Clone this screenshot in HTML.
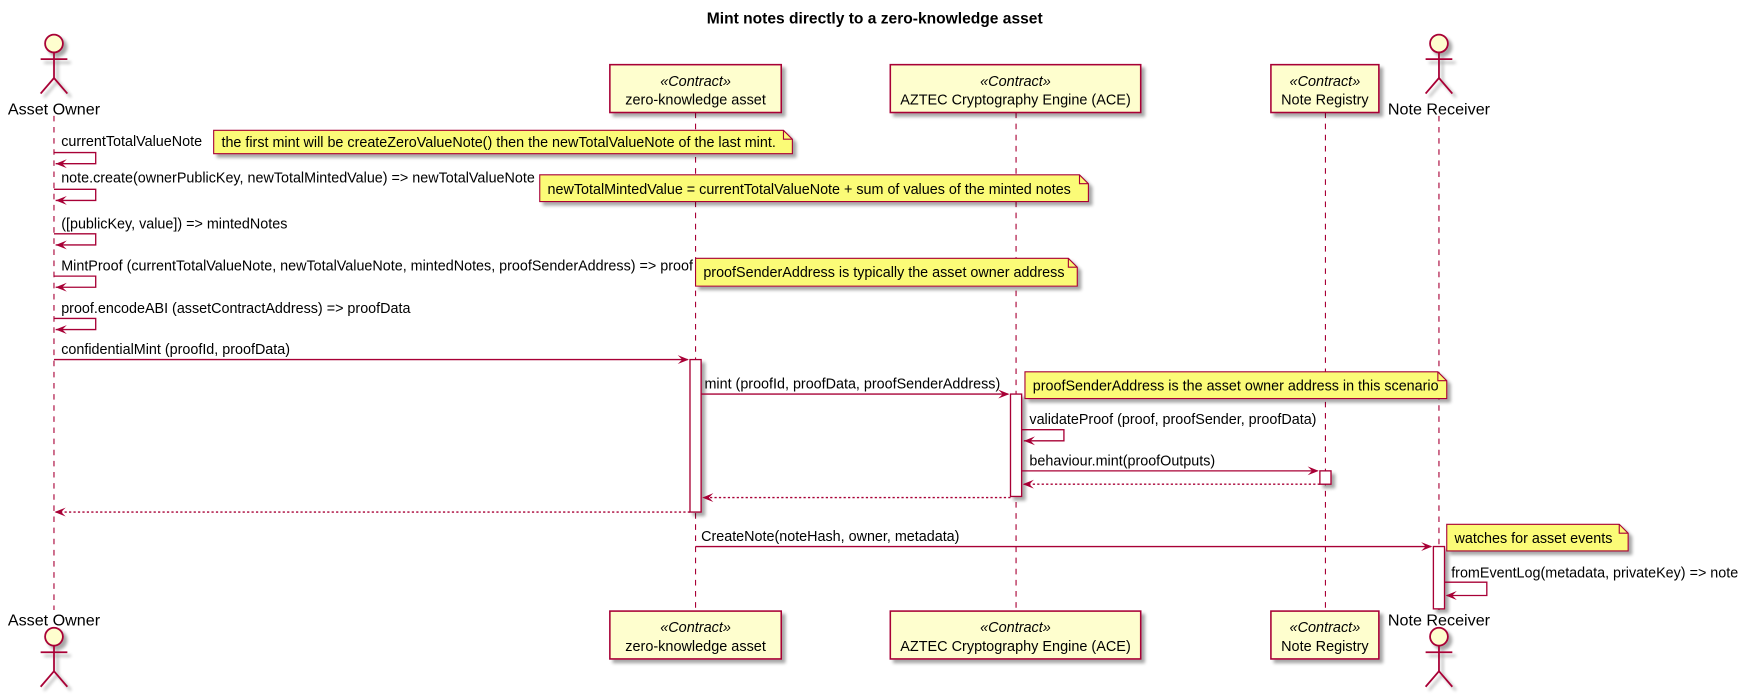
<!DOCTYPE html>
<html><head><meta charset="utf-8"><style>
html,body{margin:0;padding:0;background:#fff;}
svg{display:block;}
text{font-family:"Liberation Sans",Arial,sans-serif;fill:#000;}
</style></head><body>
<svg width="1745" height="698" viewBox="0 0 1568 627" xmlns="http://www.w3.org/2000/svg">
<defs>
<filter id="sh" x="-20%" y="-20%" width="150%" height="150%">
<feGaussianBlur in="SourceAlpha" stdDeviation="1.5"/>
<feOffset dx="3" dy="3" result="o"/>
<feComponentTransfer><feFuncA type="linear" slope="0.35"/></feComponentTransfer>
<feMerge><feMergeNode/><feMergeNode in="SourceGraphic"/></feMerge>
</filter>
<g id="actor" fill="none" stroke="#A80036" stroke-width="1.6">
<circle cx="0" cy="0" r="8" fill="#FEFECE"/>
<line x1="0" y1="8" x2="0" y2="31"/>
<line x1="-12" y1="14" x2="12" y2="14"/>
<line x1="0" y1="31" x2="-12" y2="45"/>
<line x1="0" y1="31" x2="12" y2="45"/>
</g>
</defs>
<text x="786" y="21" font-size="14" font-weight="bold" text-anchor="middle">Mint notes directly to a zero-knowledge asset</text>

<g stroke="#A80036" stroke-width="1" stroke-dasharray="5,5">
<line x1="48.5" y1="104" x2="48.5" y2="548"/>
<line x1="625" y1="101" x2="625" y2="549"/>
<line x1="913" y1="101" x2="913" y2="549"/>
<line x1="1191" y1="101" x2="1191" y2="549"/>
<line x1="1293" y1="104" x2="1293" y2="548"/>
</g>

<g filter="url(#sh)">
<use href="#actor" x="48.5" y="39"/>
<use href="#actor" x="1293" y="39"/>
<use href="#actor" x="48.5" y="572"/>
<use href="#actor" x="1293" y="572"/>
</g>
<g font-size="14.5" text-anchor="middle">
<text x="48.5" y="103">Asset Owner</text>
<text x="1293" y="103">Note Receiver</text>
<text x="48.5" y="562">Asset Owner</text>
<text x="1293" y="562">Note Receiver</text>
</g>

<g fill="#FEFECE" stroke="#A80036" stroke-width="1.4" filter="url(#sh)">
<rect x="548" y="58" width="154" height="43"/>
<rect x="800" y="58" width="225" height="43"/>
<rect x="1142" y="58" width="97" height="43"/>
<rect x="548" y="549" width="154" height="43"/>
<rect x="800" y="549" width="225" height="43"/>
<rect x="1142" y="549" width="97" height="43"/>
</g>
<g font-size="13" text-anchor="middle">
<text x="625" y="77" font-style="italic">«Contract»</text>
<text x="625" y="94">zero-knowledge asset</text>
<text x="912.5" y="77" font-style="italic">«Contract»</text>
<text x="912.5" y="94">AZTEC Cryptography Engine (ACE)</text>
<text x="1190.5" y="77" font-style="italic">«Contract»</text>
<text x="1190.5" y="94">Note Registry</text>
<text x="625" y="568" font-style="italic">«Contract»</text>
<text x="625" y="585">zero-knowledge asset</text>
<text x="912.5" y="568" font-style="italic">«Contract»</text>
<text x="912.5" y="585">AZTEC Cryptography Engine (ACE)</text>
<text x="1190.5" y="568" font-style="italic">«Contract»</text>
<text x="1190.5" y="585">Note Registry</text>
</g>

<g fill="#fff" stroke="#A80036" stroke-width="1.2" filter="url(#sh)">
<rect x="620" y="323" width="10" height="137"/>
<rect x="908" y="354" width="10" height="92"/>
<rect x="1186" y="423" width="10" height="12"/>
<rect x="1288" y="491" width="10" height="56"/>
</g>

<g stroke="#A80036" stroke-width="1.2" fill="none">
<polyline points="48.5,137 86,137 86,147 50,147"/>
<polyline points="48.5,170 86,170 86,180 50,180"/>
<polyline points="48.5,210 86,210 86,220 50,220"/>
<polyline points="48.5,248 86,248 86,258 50,258"/>
<polyline points="48.5,286 86,286 86,296 50,296"/>
<line x1="48.5" y1="323" x2="618" y2="323"/>
<line x1="630" y1="354" x2="906" y2="354"/>
<polyline points="918,386 956,386 956,396 920,396"/>
<line x1="918" y1="423" x2="1184" y2="423"/>
<line x1="1186" y1="435" x2="920" y2="435" stroke-dasharray="2,2"/>
<line x1="908" y1="447" x2="632" y2="447" stroke-dasharray="2,2"/>
<line x1="620" y1="460" x2="50" y2="460" stroke-dasharray="2,2"/>
<line x1="625" y1="491" x2="1286" y2="491"/>
<polyline points="1298,523 1336,523 1336,535 1300,535"/>
</g>
<g fill="#A80036">
<polygon points="50,147 60,143 56,147 60,151"/>
<polygon points="50,180 60,176 56,180 60,184"/>
<polygon points="50,220 60,216 56,220 60,224"/>
<polygon points="50,258 60,254 56,258 60,262"/>
<polygon points="50,296 60,292 56,296 60,300"/>
<polygon points="619,323 609,319 613,323 609,327"/>
<polygon points="907,354 897,350 901,354 897,358"/>
<polygon points="920,396 930,392 926,396 930,400"/>
<polygon points="1185,423 1175,419 1179,423 1175,427"/>
<polygon points="919,435 929,431 925,435 929,439"/>
<polygon points="631,447 641,443 637,447 641,451"/>
<polygon points="49,460 59,456 55,460 59,464"/>
<polygon points="1287,491 1277,487 1281,491 1277,495"/>
<polygon points="1299,535 1309,531 1305,535 1309,539"/>
</g>
<g font-size="12.9">
<text x="55" y="131">currentTotalValueNote</text>
<text x="55" y="164">note.create(ownerPublicKey, newTotalMintedValue) =&gt; newTotalValueNote</text>
<text x="55" y="205">([publicKey, value]) =&gt; mintedNotes</text>
<text x="55" y="243">MintProof (currentTotalValueNote, newTotalValueNote, mintedNotes, proofSenderAddress) =&gt; proof</text>
<text x="55" y="281">proof.encodeABI (assetContractAddress) =&gt; proofData</text>
<text x="55" y="318">confidentialMint (proofId, proofData)</text>
<text x="633" y="349">mint (proofId, proofData, proofSenderAddress)</text>
<text x="925" y="381">validateProof (proof, proofSender, proofData)</text>
<text x="925" y="418">behaviour.mint(proofOutputs)</text>
<text x="630" y="486">CreateNote(noteHash, owner, metadata)</text>
<text x="1304" y="519">fromEventLog(metadata, privateKey) =&gt; note</text>
</g>

<g fill="#FBFB77" stroke="#A80036" stroke-width="1" filter="url(#sh)">
<path d="M192,117 H704 L712,125 V138 H192 Z"/>
<path d="M485,157 H970 L978,165 V181 H485 Z"/>
<path d="M625,232 H960 L968,240 V257 H625 Z"/>
<path d="M921,334 H1292 L1300,342 V358 H921 Z"/>
<path d="M1300,471 H1455 L1463,479 V495 H1300 Z"/>
</g>
<g fill="none" stroke="#A80036" stroke-width="1">
<path d="M704,117 V125 H712"/>
<path d="M970,157 V165 H978"/>
<path d="M960,232 V240 H968"/>
<path d="M1292,334 V342 H1300"/>
<path d="M1455,471 V479 H1463"/>
</g>
<g font-size="12.9">
<text x="199" y="132">the first mint will be createZeroValueNote() then the newTotalValueNote of the last mint.</text>
<text x="492" y="174">newTotalMintedValue = currentTotalValueNote + sum of values of the minted notes</text>
<text x="632" y="249">proofSenderAddress is typically the asset owner address</text>
<text x="928" y="351">proofSenderAddress is the asset owner address in this scenario</text>
<text x="1307" y="488">watches for asset events</text>
</g>
</svg>
</body></html>
